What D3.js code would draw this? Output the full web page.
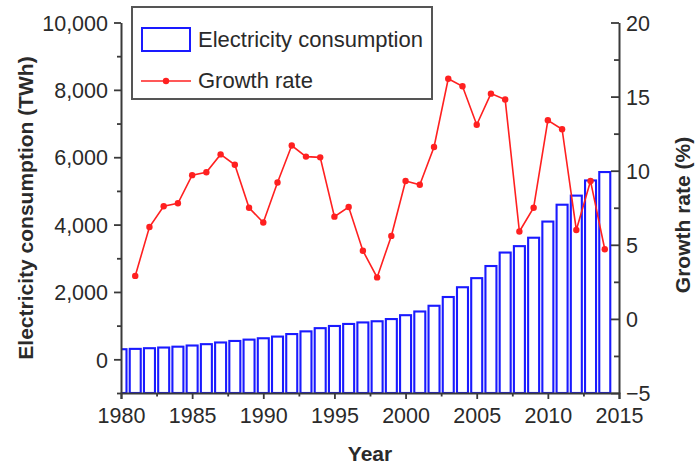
<!DOCTYPE html>
<html>
<head>
<meta charset="utf-8">
<script src="https://cdn.jsdelivr.net/npm/d3@7"></script>
<style>
  html, body { margin: 0; padding: 0; background: #fff; }
  svg { display: block; font-family: "Liberation Sans", Arial, sans-serif; }
</style>
</head>
<body>
<svg id="chart" width="695" height="468"></svg>
<script>
const years = [1980,1981,1982,1983,1984,1985,1986,1987,1988,1989,1990,1991,1992,1993,1994,1995,1996,1997,1998,1999,2000,2001,2002,2003,2004,2005,2006,2007,2008,2009,2010,2011,2012,2013,2014];
const consumption = [300,310,330,350,375,410,450,500,545,585,625,675,750,830,925,990,1050,1095,1130,1195,1310,1420,1590,1850,2140,2410,2770,3170,3360,3610,4090,4590,4860,5310,5560];
const growthYears = [1981,1982,1983,1984,1985,1986,1987,1988,1989,1990,1991,1992,1993,1994,1995,1996,1997,1998,1999,2000,2001,2002,2003,2004,2005,2006,2007,2008,2009,2010,2011,2012,2013,2014];
const growth = [2.9,6.2,7.6,7.8,9.7,9.9,11.1,10.4,7.5,6.5,9.2,11.7,10.95,10.9,6.9,7.55,4.6,2.8,5.6,9.3,9.05,11.6,16.2,15.7,13.1,15.2,14.8,5.9,7.5,13.4,12.8,6.0,9.3,4.7];
const xTicks = [1980,1985,1990,1995,2000,2005,2010,2015];
const xMinor = [1982.5,1987.5,1992.5,1997.5,2002.5,2007.5,2012.5];
const leftTicks = [0,2000,4000,6000,8000,10000];
const leftMinor = [-1000,1000,3000,5000,7000,9000];
const rightTicks = [-5,0,5,10,15,20];
const rightMinor = [-2.5,2.5,7.5,12.5,17.5];
const seriesNames = ["Electricity consumption","Growth rate"];
const titles = {x:"Year", left:"Electricity consumption (TWh)", right:"Growth rate (%)"};

const svg = d3.select("#chart");
const L = 121, R = 619, T = 22.5, B = 393;
const x = d3.scaleLinear().domain([1980, 2015]).range([L, R]);
const yL = d3.scaleLinear().domain([-1000, 10000]).range([B, T]);
const yR = d3.scaleLinear().domain([-5, 20]).range([B, T]);

const axisColor = "#3a3a3a", textColor = "#2a2a2a";
const blue = "#1a1aff", red = "#ff2020";

svg.append("clipPath").attr("id","plotclip")
  .append("rect").attr("x", L).attr("y", 0).attr("width", R - L).attr("height", B);

// bars
const bw = 11;
svg.append("g").attr("clip-path","url(#plotclip)")
  .selectAll("rect").data(years).join("rect")
  .attr("x", (d) => x(d) - bw/2)
  .attr("y", (d, i) => yL(consumption[i]))
  .attr("width", bw)
  .attr("height", (d, i) => B - yL(consumption[i]))
  .attr("fill", "#fff")
  .attr("stroke", blue)
  .attr("stroke-width", 2.1);

// growth line
const line = d3.line().x((d, i) => x(growthYears[i])).y((d) => yR(d));
svg.append("path").datum(growth)
  .attr("d", line).attr("fill","none").attr("stroke", red).attr("stroke-width", 1.6);
svg.append("g").selectAll("circle").data(growth).join("circle")
  .attr("cx", (d, i) => x(growthYears[i])).attr("cy", (d) => yR(d))
  .attr("r", 3.2).attr("fill", red);

// axes
function styleAxis(g){
  g.selectAll("path.domain").attr("stroke", axisColor).attr("stroke-width", 2);
  g.selectAll(".tick line").attr("stroke", axisColor).attr("stroke-width", 1.8);
  g.selectAll(".tick text").attr("fill", textColor).attr("font-size", 21.5)
    .attr("font-family", '"Liberation Sans", Arial, sans-serif');
}
const gx = svg.append("g").attr("transform", `translate(0,${B})`)
  .call(d3.axisBottom(x).tickValues(xTicks).tickFormat(d3.format("d")).tickSize(6).tickPadding(9));
styleAxis(gx);
const gxm = svg.append("g").attr("transform", `translate(0,${B})`)
  .call(d3.axisBottom(x).tickValues(xMinor).tickFormat("").tickSize(3.5));
gxm.select("path.domain").remove(); styleAxis(gxm);

const gl = svg.append("g").attr("transform", `translate(${L},0)`)
  .call(d3.axisLeft(yL).tickValues(leftTicks).tickFormat(d3.format(",")).tickSize(7).tickPadding(6).tickSizeOuter(0));
styleAxis(gl);
gl.selectAll(".tick text").attr("dy", "0.36em");
const glm = svg.append("g").attr("transform", `translate(${L},0)`)
  .call(d3.axisLeft(yL).tickValues(leftMinor).tickFormat("").tickSize(4));
glm.select("path.domain").remove(); styleAxis(glm);

const gr = svg.append("g").attr("transform", `translate(${R},0)`)
  .call(d3.axisRight(yR).tickValues(rightTicks).tickFormat((d) => d < 0 ? "\u2212" + Math.abs(d) : d).tickSize(-8).tickPadding(7).tickSizeOuter(0));
styleAxis(gr);
gr.selectAll(".tick text").attr("dy", "0.36em");
const grm = svg.append("g").attr("transform", `translate(${R},0)`)
  .call(d3.axisRight(yR).tickValues(rightMinor).tickFormat("").tickSize(-5));
grm.select("path.domain").remove(); styleAxis(grm);

// axis titles
svg.append("text").attr("x", (L + R)/2 - 0).attr("y", 461)
  .attr("text-anchor","middle").attr("font-weight","bold").attr("font-size", 21)
  .attr("fill", textColor).text(titles.x);
svg.append("text").attr("transform","translate(33,208) rotate(-90)")
  .attr("text-anchor","middle").attr("font-weight","bold").attr("font-size", 21)
  .attr("fill", textColor).text(titles.left);
svg.append("text").attr("transform","translate(690,215) rotate(-90)")
  .attr("text-anchor","middle").attr("font-weight","bold").attr("font-size", 21)
  .attr("fill", textColor).text(titles.right);

// legend
const lg = svg.append("g");
lg.append("rect").attr("x", 132).attr("y", 7).attr("width", 300).attr("height", 92)
  .attr("fill","#fff").attr("stroke", "#555").attr("stroke-width", 2);
lg.append("rect").attr("x", 142).attr("y", 28).attr("width", 48).attr("height", 23)
  .attr("fill","#fff").attr("stroke", blue).attr("stroke-width", 2);
lg.append("text").attr("x", 198).attr("y", 47).attr("font-size", 22)
  .attr("fill", textColor).text(seriesNames[0]);
lg.append("line").attr("x1", 141).attr("x2", 191).attr("y1", 81).attr("y2", 81)
  .attr("stroke", red).attr("stroke-width", 1.6);
lg.append("circle").attr("cx", 166).attr("cy", 81).attr("r", 3.2).attr("fill", red);
lg.append("text").attr("x", 198).attr("y", 88).attr("font-size", 22)
  .attr("fill", textColor).text(seriesNames[1]);
</script>
</body>
</html>
